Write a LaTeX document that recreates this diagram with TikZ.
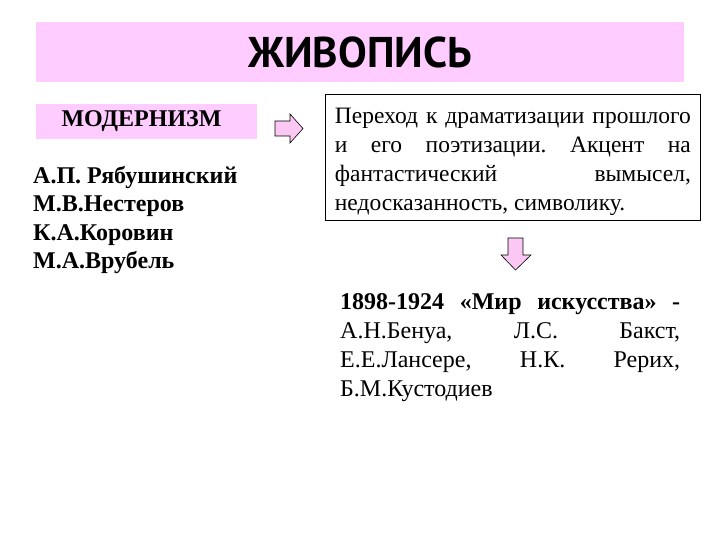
\documentclass[tikz,border=0pt]{standalone}
\usepackage{fontspec}
\setmainfont{Liberation Serif}
\newfontfamily\headfont{PT Sans}
\usetikzlibrary{positioning}
\frenchspacing
\definecolor{pinkband}{RGB}{255,204,255}
\definecolor{pinkarrow}{RGB}{250,200,242}
\tikzset{
  band/.style={fill=pinkband, minimum height=60pt, minimum width=648pt},
  tagbox/.style={fill=pinkband, minimum width=221pt, minimum height=35pt},
  textbox/.style={draw, line width=0.8pt, anchor=north west, text width=356pt,
    align=justify, inner xsep=9.5pt, inner ysep=5pt,
    font=\fontsize{23.5}{29}\selectfont},
  plaintext/.style={anchor=north west, inner sep=0pt, text width=340pt,
    align=justify, font=\fontsize{24}{29}\selectfont},
  namelist/.style={anchor=north west, inner sep=0pt, align=left,
    font=\fontsize{24}{28.5}\selectfont\bfseries},
  blockarrow/.style={draw, fill=pinkarrow, line width=0.6pt, line join=miter}
}
\begin{document}
\begin{tikzpicture}[x=1pt,y=-1pt]
  \useasboundingbox (0,0) rectangle (720,540);
  \node[band] (title) at (360,52)
    {\headfont\bfseries\fontsize{43}{43}\selectfont ЖИВОПИСЬ};
  \node[tagbox, font=\fontsize{24}{24}\selectfont\bfseries] (modern) at (146.5,121.5)
    {МОДЕРНИЗМ\hspace*{10pt}};
  \node[namelist] (names) at (33,166)
    {А.П. Рябушинский\\ М.В.Нестеров\\ К.А.Коровин\\ М.А.Врубель};
  \node[textbox] (idea) at (325,94)
    {\hyphenpenalty=10000 \rule{0pt}{24pt}Переход к драматизации прошлого\linebreak
     и его поэтизации. Акцент на\linebreak
     фантастический вымысел,\linebreak
     недосказанность, символику.};
  \node[plaintext] (art) at (340,293)
    {\hyphenpenalty=10000 {\bfseries 1898-1924 «Мир искусства» -}\linebreak
     А.Н.Бенуа, Л.С. Бакст,\linebreak
     Е.Е.Лансере, Н.К. Рерих,\linebreak
     Б.М.Кустодиев};
  % block arrows
  \draw[blockarrow] (275,121) -- (290,121) -- (290,114) -- (303,128.5)
    -- (290,143) -- (290,136) -- (275,136) -- cycle;
  \draw[blockarrow] (508,238) -- (523,238) -- (523,255) -- (531,255)
    -- (515.5,270) -- (501,255) -- (508,255) -- cycle;
\end{tikzpicture}
\end{document}
